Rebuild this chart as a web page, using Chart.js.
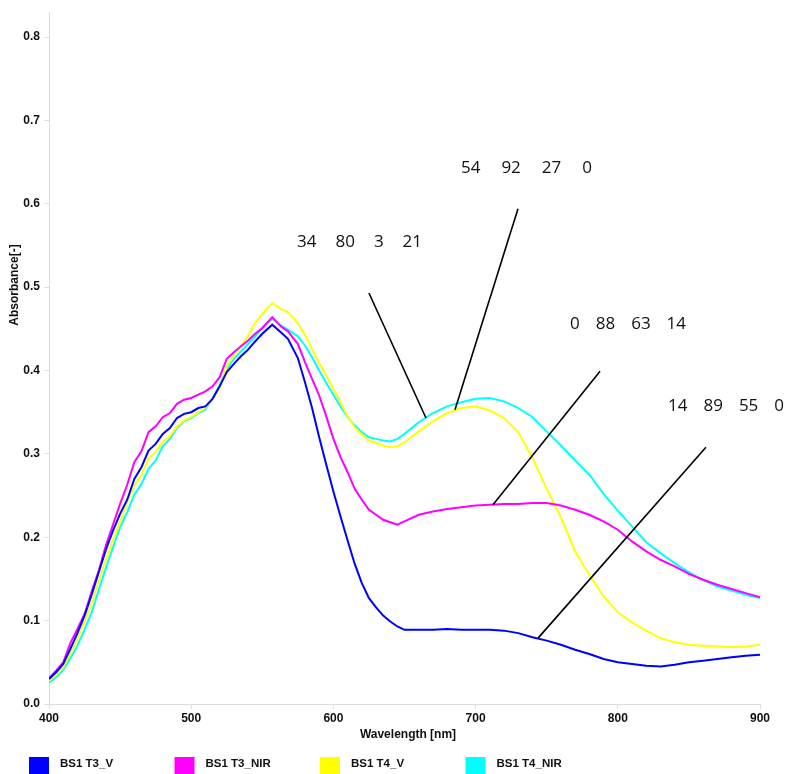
<!DOCTYPE html>
<html><head><meta charset="utf-8">
<script src="https://cdn.jsdelivr.net/npm/chart.js@4/dist/chart.umd.min.js"></script>
<style>html,body{margin:0;padding:0;background:#fff;}</style>
</head><body>
<canvas id="c" width="786" height="774"></canvas>
<script>
// ---- data ----
const wavelengths = [400,405,410,415,420,425,430,435,440,445,450,455,460,465,470,475,480,485,490,495,500,505,510,515,520,525,530,535,540,545,550,557,563,568,575,580,585,590,595,600,605,610,615,620,625,630,635,640,645,650,660,670,680,690,700,710,720,730,740,750,760,770,780,790,800,810,820,830,840,850,860,870,880,890,900];
const t3V   = [0.030,0.038,0.048,0.066,0.085,0.106,0.131,0.158,0.185,0.208,0.228,0.245,0.270,0.284,0.304,0.312,0.324,0.331,0.343,0.348,0.350,0.355,0.357,0.366,0.381,0.398,0.408,0.417,0.425,0.435,0.444,0.455,0.446,0.438,0.415,0.386,0.355,0.320,0.287,0.255,0.225,0.196,0.168,0.145,0.127,0.116,0.106,0.099,0.093,0.089,0.089,0.089,0.090,0.089,0.089,0.089,0.088,0.085,0.080,0.076,0.071,0.065,0.060,0.054,0.050,0.048,0.046,0.045,0.047,0.050,0.052,0.054,0.056,0.058,0.059];
const t3NIR = [0.031,0.040,0.050,0.073,0.090,0.108,0.135,0.160,0.190,0.215,0.240,0.263,0.290,0.303,0.326,0.333,0.344,0.349,0.360,0.365,0.367,0.371,0.375,0.381,0.392,0.414,0.422,0.429,0.436,0.444,0.451,0.464,0.453,0.447,0.432,0.410,0.390,0.370,0.345,0.318,0.296,0.278,0.258,0.245,0.233,0.227,0.221,0.218,0.215,0.219,0.227,0.231,0.234,0.236,0.238,0.239,0.240,0.240,0.241,0.241,0.238,0.233,0.227,0.219,0.209,0.195,0.183,0.173,0.165,0.156,0.149,0.143,0.138,0.133,0.128];
const t4V   = [0.028,0.035,0.044,0.060,0.078,0.099,0.121,0.148,0.173,0.197,0.218,0.242,0.262,0.275,0.294,0.302,0.315,0.321,0.333,0.340,0.344,0.350,0.355,0.366,0.378,0.405,0.418,0.429,0.442,0.457,0.468,0.481,0.474,0.470,0.457,0.443,0.426,0.409,0.394,0.378,0.362,0.345,0.332,0.323,0.316,0.313,0.310,0.308,0.309,0.314,0.327,0.339,0.349,0.355,0.357,0.352,0.343,0.326,0.295,0.258,0.224,0.183,0.155,0.129,0.110,0.098,0.088,0.079,0.074,0.071,0.070,0.069,0.068,0.069,0.071];
const t4NIR = [0.026,0.032,0.041,0.055,0.070,0.089,0.110,0.137,0.163,0.188,0.212,0.230,0.251,0.264,0.282,0.292,0.309,0.318,0.331,0.339,0.343,0.349,0.353,0.366,0.382,0.402,0.414,0.423,0.432,0.441,0.451,0.462,0.454,0.449,0.441,0.430,0.416,0.400,0.385,0.371,0.357,0.344,0.334,0.326,0.320,0.318,0.316,0.315,0.318,0.324,0.338,0.349,0.357,0.362,0.366,0.367,0.363,0.355,0.344,0.327,0.310,0.292,0.275,0.252,0.232,0.213,0.194,0.181,0.169,0.158,0.149,0.141,0.136,0.131,0.127];
const seriesNames = ["BS1 T3_V","BS1 T3_NIR","BS1 T4_V","BS1 T4_NIR"];
const yTicks = [0,0.1,0.2,0.3,0.4,0.5,0.6,0.7,0.8];
const xTicks = [400,500,600,700,800,900];
// annotation labels (CMYK values) with their text anchors and leader-line ends, in data units
const annoLabels = [["34","80","3","21"],["54","92","27","0"],["0","88","63","14"],["14","89","55","0"]];
const annoTextAt = [[574.4,0.554],[689.7,0.643],[766.4,0.456],[835.3,0.357]];
const annoLineFrom = [[625.0,0.493],[729.8,0.594],[787.5,0.399],[862.0,0.308]];
const annoLineTo   = [[665.1,0.343],[685.5,0.353],[712.2,0.239],[743.9,0.079]];

// ---- presentation ----
const colors = ["#0000ff","#ff00ff","#ffff00","#00ffff"];
const seriesData = [t3V,t3NIR,t4V,t4NIR];
const annoGap = [19,21,16,16];
const tickFont = {family:"'Liberation Sans', Arial, sans-serif", size:12, weight:"bold"};

const datasets = seriesData.map((arr,i)=>({
  label: seriesNames[i],
  data: wavelengths.map((w,j)=>({x:w,y:arr[j]})),
  borderColor: colors[i], backgroundColor: colors[i],
  borderWidth: 2, pointRadius: 0, tension: 0, fill:false
}));

const extras = {
  id:'extras',
  afterDatasetsDraw(chart){
    const ctx = chart.ctx, xs = chart.scales.x, ys = chart.scales.y;
    ctx.save();
    ctx.strokeStyle = "#000"; ctx.lineWidth = 1.6;
    for(let i=0;i<annoLineFrom.length;i++){
      ctx.beginPath();
      ctx.moveTo(xs.getPixelForValue(annoLineFrom[i][0]), ys.getPixelForValue(annoLineFrom[i][1]));
      ctx.lineTo(xs.getPixelForValue(annoLineTo[i][0]), ys.getPixelForValue(annoLineTo[i][1]));
      ctx.stroke();
    }
    ctx.fillStyle = "#111"; ctx.font = "17px 'Open Sans', sans-serif";
    ctx.textBaseline = "middle"; ctx.textAlign = "left";
    for(let i=0;i<annoLabels.length;i++){
      let x = xs.getPixelForValue(annoTextAt[i][0]);
      const y = ys.getPixelForValue(annoTextAt[i][1]);
      for(const tok of annoLabels[i]){
        ctx.fillText(tok, x, y);
        x += ctx.measureText(tok).width + annoGap[i];
      }
    }
    ctx.restore();
  },
  afterDraw(chart){
    const ctx = chart.ctx;
    ctx.save();
    ctx.fillStyle = "#111";
    ctx.font = "bold 12px 'Liberation Sans', Arial, sans-serif";
    ctx.textAlign = "center"; ctx.textBaseline = "middle";
    ctx.fillText("Wavelength [nm]", 408, 735);
    ctx.translate(15, 285); ctx.rotate(-Math.PI/2);
    ctx.fillText("Absorbance[-]", 0, 0);
    ctx.setTransform(1,0,0,1,0,0);
    ctx.textAlign = "left";
    ctx.font = "bold 11.5px 'Liberation Sans', Arial, sans-serif";
    chart.data.datasets.forEach((ds,i)=>{
      const bx = 29 + i*145.5;
      ctx.fillStyle = ds.borderColor;
      ctx.fillRect(bx, 757, 20, 18);
      ctx.fillStyle = "#111";
      ctx.fillText(ds.label, bx + 31, 764);
    });
    ctx.restore();
  }
};

new Chart(document.getElementById('c'), {
  type: 'line',
  data: { datasets },
  options: {
    responsive: false, animation: false,
    layout: { padding: { top: 12, right: 26, left: 0, bottom: 0 } },
    plugins: { legend: { display: false }, tooltip: { enabled: false } },
    scales: {
      x: {
        type: 'linear', min: xTicks[0], max: xTicks[xTicks.length-1],
        afterBuildTicks: s => { s.ticks = xTicks.map(v=>({value:v})); },
        afterFit: s => { s.height = 70; },
        ticks: { font: tickFont, color: "#111", padding: 2, maxRotation: 0, callback: v => String(v) },
        grid: { drawOnChartArea: false, tickLength: 5, color: "#dddddd" },
        border: { color: "#dddddd" }
      },
      y: {
        min: 0, max: 0.83,
        afterBuildTicks: s => { s.ticks = yTicks.map(v=>({value:v})); },
        afterFit: s => { s.width = 49; },
        ticks: { font: tickFont, color: "#111", padding: 4, callback: v => Number(v).toFixed(1) },
        grid: { drawOnChartArea: false, tickLength: 5, color: "#dddddd" },
        border: { color: "#dddddd" }
      }
    }
  },
  plugins: [extras]
});
</script>
</body></html>
